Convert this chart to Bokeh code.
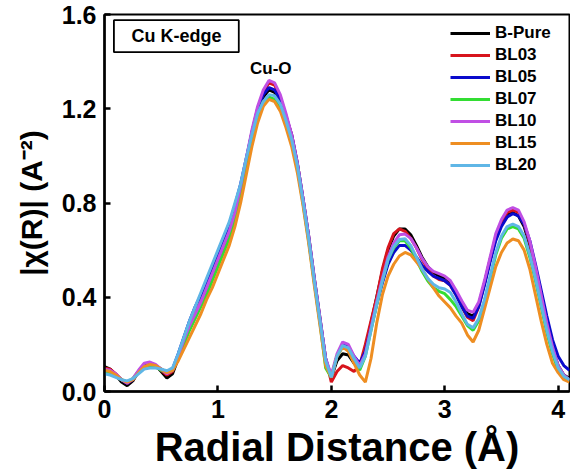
from bokeh.plotting import figure
from bokeh.models import FixedTicker, NumeralTickFormatter, Range1d, Label, BoxAnnotation
from bokeh.embed import file_html
from bokeh.resources import INLINE

# Radial distance grid (Å)
r = [0.00, 0.05, 0.10, 0.15, 0.20, 0.25, 0.30, 0.35, 0.40, 0.45,
     0.50, 0.55, 0.60, 0.65, 0.70, 0.75, 0.80, 0.85, 0.90, 0.95,
     1.00, 1.05, 1.10, 1.15, 1.20, 1.25, 1.30, 1.35, 1.40, 1.45,
     1.50, 1.55, 1.60, 1.65, 1.70, 1.75, 1.80, 1.85, 1.90, 1.95,
     2.00, 2.05, 2.10, 2.15, 2.20, 2.25, 2.30, 2.35, 2.40, 2.45,
     2.50, 2.55, 2.60, 2.65, 2.70, 2.75, 2.80, 2.85, 2.90, 2.95,
     3.00, 3.05, 3.10, 3.15, 3.20, 3.25, 3.30, 3.35, 3.40, 3.45,
     3.50, 3.55, 3.60, 3.65, 3.70, 3.75, 3.80, 3.85, 3.90, 3.95,
     4.00, 4.05, 4.10]

b_pure = [0.105, 0.095, 0.07, 0.04, 0.025, 0.045, 0.085, 0.115, 0.122, 0.11,
          0.085, 0.057, 0.075, 0.14, 0.21, 0.27, 0.32, 0.37, 0.43, 0.49,
          0.55, 0.60, 0.66, 0.74, 0.84, 0.96, 1.08, 1.18, 1.25, 1.28,
          1.27, 1.23, 1.16, 1.08, 0.96, 0.81, 0.65, 0.47, 0.30, 0.13,
          0.06, 0.13, 0.16, 0.155, 0.12, 0.10, 0.18, 0.29, 0.40, 0.51,
          0.60, 0.66, 0.69, 0.69, 0.665, 0.62, 0.57, 0.53, 0.505, 0.49,
          0.48, 0.46, 0.42, 0.37, 0.33, 0.32, 0.37, 0.46, 0.56, 0.65,
          0.71, 0.75, 0.76, 0.745, 0.70, 0.62, 0.51, 0.39, 0.28, 0.18,
          0.11, 0.07, 0.055]

bl03 = [0.10, 0.095, 0.075, 0.05, 0.035, 0.05, 0.085, 0.11, 0.118, 0.11,
        0.09, 0.07, 0.085, 0.14, 0.21, 0.28, 0.33, 0.38, 0.44, 0.50,
        0.56, 0.62, 0.68, 0.76, 0.86, 0.98, 1.10, 1.20, 1.27, 1.31,
        1.30, 1.25, 1.17, 1.09, 0.97, 0.82, 0.66, 0.48, 0.31, 0.14,
        0.04, 0.085, 0.11, 0.10, 0.085, 0.11, 0.20, 0.30, 0.40, 0.52,
        0.61, 0.67, 0.69, 0.68, 0.65, 0.61, 0.56, 0.52, 0.49, 0.475,
        0.47, 0.45, 0.41, 0.36, 0.315, 0.30, 0.36, 0.46, 0.56, 0.66,
        0.72, 0.76, 0.77, 0.76, 0.71, 0.63, 0.52, 0.40, 0.28, 0.18,
        0.10, 0.06, 0.045]

bl05 = [0.09, 0.085, 0.07, 0.05, 0.035, 0.05, 0.085, 0.11, 0.118, 0.11,
        0.095, 0.08, 0.095, 0.16, 0.23, 0.30, 0.36, 0.41, 0.47, 0.53,
        0.59, 0.65, 0.71, 0.79, 0.88, 0.99, 1.10, 1.20, 1.26, 1.29,
        1.28, 1.24, 1.17, 1.09, 0.97, 0.82, 0.66, 0.48, 0.31, 0.14,
        0.06, 0.15, 0.20, 0.19, 0.15, 0.12, 0.17, 0.27, 0.37, 0.46,
        0.54, 0.59, 0.62, 0.62, 0.60, 0.57, 0.535, 0.51, 0.49, 0.48,
        0.47, 0.45, 0.41, 0.36, 0.32, 0.31, 0.36, 0.45, 0.55, 0.64,
        0.70, 0.74, 0.755, 0.745, 0.71, 0.64, 0.54, 0.43, 0.32, 0.22,
        0.15, 0.11, 0.09]

bl07 = [0.085, 0.08, 0.065, 0.05, 0.04, 0.055, 0.085, 0.105, 0.11, 0.105,
        0.09, 0.08, 0.09, 0.14, 0.20, 0.26, 0.31, 0.36, 0.41, 0.47,
        0.53, 0.59, 0.65, 0.73, 0.83, 0.95, 1.07, 1.17, 1.23, 1.25,
        1.24, 1.20, 1.14, 1.06, 0.95, 0.80, 0.64, 0.46, 0.29, 0.10,
        0.06, 0.15, 0.19, 0.18, 0.13, 0.09, 0.15, 0.26, 0.37, 0.47,
        0.56, 0.61, 0.64, 0.64, 0.61, 0.56, 0.51, 0.47, 0.44, 0.425,
        0.415, 0.39, 0.36, 0.32, 0.28, 0.26, 0.30, 0.38, 0.48, 0.58,
        0.65, 0.69, 0.70, 0.69, 0.65, 0.57, 0.47, 0.36, 0.25, 0.16,
        0.09, 0.055, 0.045]

bl10 = [0.095, 0.09, 0.075, 0.05, 0.035, 0.055, 0.09, 0.12, 0.125, 0.115,
        0.095, 0.075, 0.09, 0.15, 0.22, 0.28, 0.33, 0.38, 0.44, 0.50,
        0.56, 0.62, 0.68, 0.76, 0.87, 0.99, 1.11, 1.21, 1.28, 1.32,
        1.31, 1.26, 1.18, 1.09, 0.97, 0.82, 0.66, 0.48, 0.31, 0.14,
        0.07, 0.16, 0.21, 0.20, 0.15, 0.11, 0.16, 0.27, 0.38, 0.48,
        0.57, 0.63, 0.665, 0.668, 0.65, 0.61, 0.565, 0.53, 0.51, 0.50,
        0.49, 0.47, 0.43, 0.385, 0.345, 0.336, 0.38, 0.47, 0.57, 0.67,
        0.73, 0.77, 0.78, 0.77, 0.72, 0.64, 0.53, 0.41, 0.29, 0.19,
        0.11, 0.07, 0.05]

bl15 = [0.09, 0.085, 0.07, 0.05, 0.04, 0.05, 0.08, 0.105, 0.115, 0.11,
        0.095, 0.08, 0.09, 0.13, 0.18, 0.23, 0.28, 0.33, 0.39, 0.44,
        0.50, 0.56, 0.62, 0.70, 0.80, 0.92, 1.04, 1.14, 1.21, 1.24,
        1.23, 1.19, 1.12, 1.04, 0.93, 0.79, 0.63, 0.45, 0.28, 0.11,
        0.06, 0.15, 0.19, 0.17, 0.12, 0.07, 0.04, 0.14, 0.29, 0.41,
        0.49, 0.54, 0.575, 0.59, 0.58, 0.55, 0.52, 0.48, 0.44, 0.405,
        0.38, 0.355, 0.32, 0.29, 0.24, 0.21, 0.26, 0.35, 0.44, 0.53,
        0.59, 0.63, 0.647, 0.64, 0.60, 0.52, 0.41, 0.30, 0.20, 0.12,
        0.08, 0.05, 0.04]

bl20 = [0.075, 0.07, 0.06, 0.05, 0.045, 0.055, 0.075, 0.095, 0.10, 0.10,
        0.095, 0.088, 0.10, 0.16, 0.23, 0.30, 0.36, 0.42, 0.48, 0.54,
        0.60, 0.66, 0.72, 0.80, 0.88, 0.99, 1.09, 1.18, 1.23, 1.26,
        1.255, 1.22, 1.15, 1.07, 0.96, 0.81, 0.65, 0.47, 0.30, 0.13,
        0.06, 0.15, 0.195, 0.185, 0.14, 0.10, 0.15, 0.26, 0.37, 0.47,
        0.56, 0.615, 0.645, 0.648, 0.62, 0.57, 0.52, 0.48, 0.455, 0.44,
        0.435, 0.42, 0.38, 0.33, 0.285, 0.27, 0.31, 0.39, 0.49, 0.59,
        0.66, 0.70, 0.71, 0.70, 0.66, 0.58, 0.48, 0.37, 0.26, 0.17,
        0.10, 0.065, 0.05]

names = ["B-Pure", "BL03", "BL05", "BL07", "BL10", "BL15", "BL20"]
series = [b_pure, bl03, bl05, bl07, bl10, bl15, bl20]
colors = ["#000000", "#d7141c", "#0a0acc", "#33dd33", "#c04fe4", "#ee8e22", "#5fb6e6"]

x_ticks = [0, 1, 2, 3, 4]
y_ticks = [0.0, 0.4, 0.8, 1.2, 1.6]

FONT = "Liberation Sans"

p = figure(width=570, height=473, output_backend="svg", toolbar_location=None,
           x_range=Range1d(0, 4.1), y_range=Range1d(0, 1.6),
           min_border_left=104, min_border_right=1, min_border_top=14, min_border_bottom=82)
p.grid.visible = False
p.outline_line_color = "black"
p.outline_line_width = 2
p.background_fill_color = "white"
p.border_fill_color = "white"

for name, ys, c in zip(names, series, colors):
    p.line(r, ys, line_color=c, line_width=3, legend_label=name)

p.xaxis.ticker = FixedTicker(ticks=x_ticks)
p.yaxis.ticker = FixedTicker(ticks=y_ticks)
p.yaxis.formatter = NumeralTickFormatter(format="0.0")

for ax in (p.xaxis[0], p.yaxis[0]):
    ax.axis_line_width = 2.5
    ax.axis_line_color = "black"
    ax.major_tick_in = 6
    ax.major_tick_out = 0
    ax.major_tick_line_width = 2.5
    ax.minor_tick_line_color = None
    ax.major_label_text_font = FONT
    ax.major_label_text_font_style = "bold"
    ax.major_label_text_font_size = "25px"
    ax.major_label_text_color = "black"
    ax.axis_label_text_font = FONT
    ax.axis_label_text_font_style = "bold"
    ax.axis_label_text_color = "black"

p.xaxis.axis_label = "Radial Distance (Å)"
p.xaxis.axis_label_text_font_size = "40px"
p.xaxis.major_label_standoff = 8
p.xaxis.axis_label_standoff = 4
p.yaxis.axis_label = "|χ(R)| (A⁻²)"
p.yaxis.axis_label_text_font_size = "30px"
p.yaxis.major_label_standoff = 8
p.yaxis.axis_label_standoff = 11

leg = p.legend[0]
leg.location = (346, 216)
leg.border_line_color = None
leg.background_fill_alpha = 0
leg.label_text_font = FONT
leg.label_text_font_style = "bold"
leg.label_text_font_size = "17px"
leg.label_text_color = "black"
leg.glyph_width = 40
leg.glyph_height = 20
leg.label_height = 20
leg.spacing = 2
leg.padding = 6
leg.label_standoff = 5
leg.margin = 0

box = BoxAnnotation(left=0.083, right=1.184, bottom=1.440, top=1.576,
                    fill_alpha=0, line_color="black", line_alpha=1, line_width=1.8)
p.add_layout(box)
p.add_layout(Label(x=0.634, y=1.508, text="Cu K-edge", text_align="center",
                   text_baseline="middle", text_font=FONT, text_font_style="bold",
                   text_font_size="18px", text_color="black"))
p.add_layout(Label(x=1.466, y=1.371, text="Cu-O", text_align="center",
                   text_baseline="middle", text_font=FONT, text_font_style="bold",
                   text_font_size="17px", text_color="black"))

open("out.html", "w").write(file_html(p, INLINE))
